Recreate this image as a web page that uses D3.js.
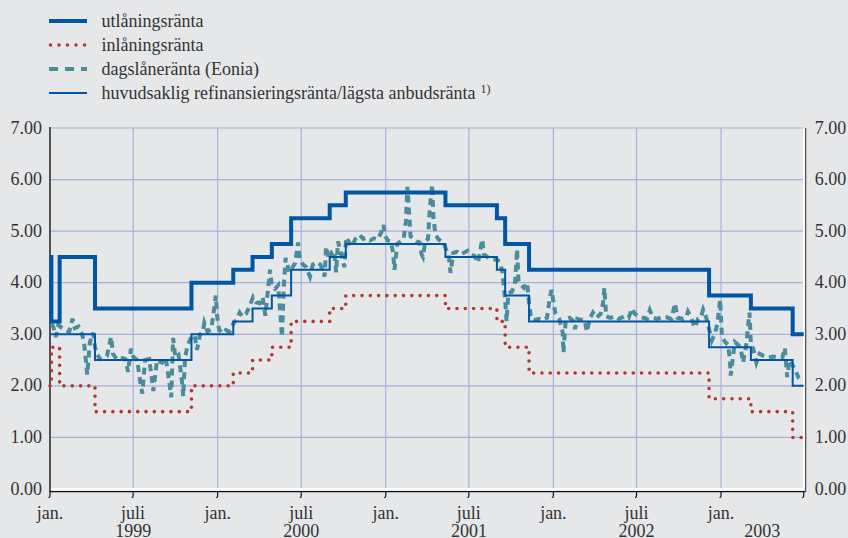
<!DOCTYPE html>
<html>
<head>
<meta charset="utf-8">
<script src="https://cdn.jsdelivr.net/npm/d3@7"></script>
<style>
  body { margin: 0; background: #e6e7e9; }
  svg { display: block; font-family: "Liberation Serif", "Times New Roman", serif; }
</style>
</head>
<body>
<div id="chart"></div>
<script>
// ECB-räntor 1999 - 2003, procent
var lendingRate = [["1999-01-01",4.50],["1999-01-04",3.25],["1999-01-22",4.50],["1999-04-09",3.50],["1999-11-05",4.00],
  ["2000-02-04",4.25],["2000-03-17",4.50],["2000-04-28",4.75],["2000-06-09",5.25],["2000-09-01",5.50],["2000-10-06",5.75],
  ["2001-05-11",5.50],["2001-08-31",5.25],["2001-09-18",4.75],["2001-11-09",4.25],["2002-12-06",3.75],["2003-03-07",3.50],
  ["2003-06-06",3.00],["2003-06-30",3.00]];

var depositRate = [["1999-01-01",2.00],["1999-01-04",2.75],["1999-01-22",2.00],["1999-04-09",1.50],["1999-11-05",2.00],
  ["2000-02-04",2.25],["2000-03-17",2.50],["2000-04-28",2.75],["2000-06-09",3.25],["2000-09-01",3.50],["2000-10-06",3.75],
  ["2001-05-11",3.50],["2001-08-31",3.25],["2001-09-18",2.75],["2001-11-09",2.25],["2002-12-06",1.75],["2003-03-07",1.50],
  ["2003-06-06",1.00],["2003-06-30",1.00]];

var refiRate = [["1999-01-01",3.00],["1999-04-09",2.50],["1999-11-05",3.00],
  ["2000-02-04",3.25],["2000-03-17",3.50],["2000-04-28",3.75],["2000-06-09",4.25],["2000-09-01",4.50],["2000-10-06",4.75],
  ["2001-05-11",4.50],["2001-08-31",4.25],["2001-09-18",3.75],["2001-11-09",3.25],["2002-12-06",2.75],["2003-03-07",2.50],
  ["2003-06-06",2.00],["2003-06-30",2.00]];

// dagslåneränta
var eonia = [
  ["1999-01-04",3.20],["1999-01-08",3.15],["1999-01-14",2.95],["1999-01-19",3.18],["1999-01-27",3.12],["1999-02-04",3.08],
  ["1999-02-12",3.05],["1999-02-19",3.30],["1999-02-24",3.12],["1999-03-04",3.15],["1999-03-12",3.00],["1999-03-16",2.85],
  ["1999-03-20",2.50],["1999-03-23",2.22],["1999-03-29",2.85],["1999-04-05",3.03],["1999-04-09",2.75],["1999-04-13",2.62],
  ["1999-04-20",2.52],["1999-04-27",2.55],["1999-05-05",2.58],["1999-05-14",2.95],["1999-05-18",2.62],["1999-05-26",2.52],
  ["1999-06-04",2.55],["1999-06-14",2.52],["1999-06-20",2.27],["1999-06-26",2.72],["1999-07-02",2.55],["1999-07-10",2.50],
  ["1999-07-16",2.10],["1999-07-21",1.85],["1999-07-27",2.50],["1999-08-05",2.52],["1999-08-11",2.12],["1999-08-14",1.90],
  ["1999-08-22",2.50],["1999-09-02",2.45],["1999-09-10",2.55],["1999-09-18",2.05],["1999-09-22",1.78],["1999-09-26",2.93],
  ["1999-10-01",2.55],["1999-10-08",2.60],["1999-10-15",2.12],["1999-10-18",1.80],["1999-10-22",2.55],["1999-10-28",2.80],
  ["1999-11-05",2.95],["1999-11-12",2.98],["1999-11-17",2.70],["1999-11-24",3.00],["1999-11-30",3.05],["1999-12-03",3.22],
  ["1999-12-10",3.05],["1999-12-18",3.10],["1999-12-23",3.40],["1999-12-28",3.75],["1999-12-31",3.35],
  ["2000-01-04",3.10],["2000-01-11",3.02],["2000-01-19",3.08],["2000-01-27",3.05],["2000-02-05",3.22],["2000-02-11",3.28],
  ["2000-02-18",3.42],["2000-02-24",3.34],["2000-03-03",3.40],["2000-03-10",3.53],["2000-03-18",3.72],["2000-03-25",3.62],
  ["2000-04-01",3.60],["2000-04-08",3.72],["2000-04-14",3.36],["2000-04-20",3.90],["2000-04-24",4.25],["2000-04-28",3.92],
  ["2000-05-05",3.88],["2000-05-12",3.95],["2000-05-20",2.95],["2000-05-24",3.92],["2000-05-28",4.48],["2000-06-05",4.20],
  ["2000-06-12",4.30],["2000-06-18",4.38],["2000-06-24",4.78],["2000-06-28",4.45],["2000-07-05",4.35],["2000-07-12",4.30],
  ["2000-07-20",4.12],["2000-07-26",4.35],["2000-08-04",4.40],["2000-08-12",4.35],["2000-08-21",4.12],["2000-08-24",4.70],
  ["2000-08-30",4.45],["2000-09-06",4.60],["2000-09-11",4.62],["2000-09-15",4.20],["2000-09-19",4.80],["2000-09-26",4.55],
  ["2000-10-03",4.30],["2000-10-07",4.88],["2000-10-12",4.80],["2000-10-19",4.70],["2000-10-27",4.85],["2000-11-05",4.93],
  ["2000-11-13",4.85],["2000-11-20",4.87],["2000-11-28",4.82],["2000-12-06",4.86],["2000-12-14",4.84],["2000-12-22",4.97],
  ["2000-12-27",5.12],["2000-12-31",4.90],
  ["2001-01-05",4.82],["2001-01-12",4.80],["2001-01-17",4.58],["2001-01-20",4.25],["2001-01-26",4.75],["2001-02-02",4.80],
  ["2001-02-09",4.85],["2001-02-14",5.20],["2001-02-17",5.86],["2001-02-20",5.50],["2001-02-24",4.90],["2001-03-02",4.85],
  ["2001-03-09",4.80],["2001-03-16",4.78],["2001-03-20",4.55],["2001-03-23",4.50],["2001-03-28",4.80],["2001-04-03",4.85],
  ["2001-04-07",5.45],["2001-04-12",5.90],["2001-04-15",5.25],["2001-04-19",4.95],["2001-04-25",4.85],["2001-05-02",4.80],
  ["2001-05-08",4.75],["2001-05-14",4.60],["2001-05-18",4.55],["2001-05-22",4.19],["2001-05-28",4.58],["2001-06-05",4.60],
  ["2001-06-12",4.55],["2001-06-20",4.58],["2001-06-28",4.62],["2001-07-05",4.55],["2001-07-13",4.52],["2001-07-21",4.39],
  ["2001-07-30",4.84],["2001-08-03",4.55],["2001-08-10",4.50],["2001-08-20",4.45],["2001-08-31",4.45],["2001-09-07",4.39],
  ["2001-09-12",4.20],["2001-09-18",3.67],["2001-09-21",3.25],["2001-09-25",3.80],["2001-10-02",3.82],["2001-10-09",3.95],
  ["2001-10-14",4.65],["2001-10-17",4.05],["2001-10-23",3.95],["2001-10-29",3.90],["2001-11-05",4.00],["2001-11-09",3.60],
  ["2001-11-14",3.30],["2001-11-22",3.28],["2001-12-01",3.30],["2001-12-10",3.28],["2001-12-18",3.32],["2001-12-24",3.70],
  ["2001-12-28",3.86],
  ["2002-01-05",3.42],["2002-01-14",3.30],["2002-01-21",3.05],["2002-01-23",2.64],["2002-01-28",3.30],["2002-02-05",3.32],
  ["2002-02-14",3.25],["2002-02-17",3.10],["2002-02-22",3.30],["2002-03-01",3.28],["2002-03-10",3.28],["2002-03-15",3.05],
  ["2002-03-21",3.30],["2002-03-28",3.42],["2002-04-05",3.32],["2002-04-14",3.40],["2002-04-19",3.60],["2002-04-22",3.90],
  ["2002-04-26",3.35],["2002-05-05",3.32],["2002-05-15",3.35],["2002-05-24",3.30],["2002-06-05",3.35],["2002-06-14",3.32],
  ["2002-06-21",3.50],["2002-06-27",3.40],["2002-07-05",3.35],["2002-07-15",3.32],["2002-07-24",3.30],["2002-07-30",3.47],
  ["2002-08-06",3.32],["2002-08-15",3.30],["2002-08-25",3.33],["2002-09-05",3.33],["2002-09-15",3.30],["2002-09-23",3.60],
  ["2002-09-28",3.32],["2002-10-10",3.30],["2002-10-17",3.33],["2002-10-21",3.44],["2002-10-28",3.32],["2002-11-05",3.13],
  ["2002-11-12",3.30],["2002-11-18",3.32],["2002-11-23",3.48],["2002-11-30",3.32],["2002-12-06",3.10],["2002-12-12",2.88],
  ["2002-12-18",3.00],["2002-12-24",3.20],["2002-12-30",3.67],
  ["2003-01-03",2.95],["2003-01-10",2.85],["2003-01-16",2.80],["2003-01-20",2.55],["2003-01-22",2.20],["2003-01-31",2.85],
  ["2003-02-07",2.80],["2003-02-13",2.72],["2003-02-18",2.45],["2003-02-25",2.80],["2003-03-04",3.42],["2003-03-07",2.83],
  ["2003-03-12",2.72],["2003-03-19",2.45],["2003-03-26",2.62],["2003-04-04",2.58],["2003-04-15",2.55],["2003-04-25",2.57],
  ["2003-05-06",2.55],["2003-05-15",2.56],["2003-05-20",2.74],["2003-05-25",2.17],["2003-05-30",2.50],["2003-06-06",2.40],
  ["2003-06-12",2.30],["2003-06-19",2.15],["2003-06-25",2.10]];

var yTicks = [0, 1, 2, 3, 4, 5, 6, 7];
var xTicks = [["1999-01-01","jan."],["1999-07-01","juli"],["2000-01-01","jan."],["2000-07-01","juli"],["2001-01-01","jan."],
  ["2001-07-01","juli"],["2002-01-01","jan."],["2002-07-01","juli"],["2003-01-01","jan."]];
var yearLabels = [["1999-07-01","1999"],["2000-07-01","2000"],["2001-07-01","2001"],["2002-07-01","2002"],["2003-04-01","2003"]];

var legendItems = [
  {name: "utlåningsränta", key: "lend"},
  {name: "inlåningsränta", key: "dep"},
  {name: "dagslåneränta (Eonia)", key: "eonia"},
  {name: "huvudsaklig refinansieringsränta/lägsta anbudsränta", key: "refi"}
];

var W = 848, H = 538;
var plot = {left: 50, right: 803.7, top: 128, bottom: 489};
var parse = d3.utcParse("%Y-%m-%d");

var styles = {
  lend:  {stroke: "#0055a4", width: 4, dash: null, cap: "butt"},
  dep:   {stroke: "#b5372e", width: 3.6, dash: "0,8.3", cap: "round"},
  eonia: {stroke: "#4a8c9c", width: 4, dash: "7,5", cap: "butt"},
  refi:  {stroke: "#0055a4", width: 2, dash: null, cap: "butt"}
};

var svg = d3.select("#chart").append("svg")
    .attr("width", W)
    .attr("height", H);

svg.append("rect").attr("width", W).attr("height", H).attr("fill", "#e6e7e9");

var x = d3.scaleUtc()
    .domain([parse("1999-01-01"), parse("2003-06-30")])
    .range([plot.left, plot.right]);

var y = d3.scaleLinear()
    .domain([0, 7])
    .range([plot.bottom, plot.top]);

// rutnät
var grid = svg.append("g");
grid.selectAll("line.h")
    .data(yTicks.filter(function(d){ return d > 0; }))
  .enter().append("line")
    .attr("x1", plot.left).attr("x2", plot.right)
    .attr("y1", function(d){ return y(d); }).attr("y2", function(d){ return y(d); })
    .attr("stroke", "#a6b0da").attr("stroke-width", 1.2);
grid.selectAll("line.v")
    .data(xTicks.slice(1))
  .enter().append("line")
    .attr("x1", function(d){ return x(parse(d[0])); }).attr("x2", function(d){ return x(parse(d[0])); })
    .attr("y1", plot.top).attr("y2", plot.bottom)
    .attr("stroke", "#a6b0da").attr("stroke-width", 1.2);

// ramlinjer
svg.append("line").attr("x1", plot.left).attr("x2", plot.right).attr("y1", plot.bottom).attr("y2", plot.bottom)
    .attr("stroke", "#fff").attr("stroke-width", 2);
svg.append("line").attr("x1", plot.right).attr("x2", plot.right).attr("y1", plot.top).attr("y2", plot.bottom)
    .attr("stroke", "#fff").attr("stroke-width", 1.5);
svg.append("line").attr("x1", plot.left - 0.5).attr("x2", plot.right + 2).attr("y1", plot.bottom + 2.6).attr("y2", plot.bottom + 2.6)
    .attr("stroke", "#111").attr("stroke-width", 1.3);
svg.append("line").attr("x1", plot.left).attr("x2", plot.left).attr("y1", plot.top - 1).attr("y2", plot.bottom + 3)
    .attr("stroke", "#222").attr("stroke-width", 1.5);
svg.append("line").attr("x1", plot.right + 2).attr("x2", plot.right + 2).attr("y1", plot.top).attr("y2", plot.bottom + 3)
    .attr("stroke", "#555").attr("stroke-width", 1.3);

// tickmarks på x-axeln
var tickDates = xTicks.map(function(d){ return d[0]; }).concat(["2003-06-30"]);
svg.append("g").selectAll("path")
    .data(tickDates)
  .enter().append("path")
    .attr("d", function(d){ var px = x(parse(d)); return "M" + px + "," + (plot.bottom + 2.6) + "v4.5q0,1.5 -1.5,1.5"; })
    .attr("fill", "none").attr("stroke", "#111").attr("stroke-width", 1.2);

// y-axlar
var yLeft = svg.append("g")
    .attr("transform", "translate(" + plot.left + ",0)")
    .call(d3.axisLeft(y).tickValues(yTicks).tickFormat(d3.format(".2f")).tickSize(0).tickPadding(8));
var yRight = svg.append("g")
    .attr("transform", "translate(" + (plot.right + 2) + ",0)")
    .call(d3.axisRight(y).tickValues(yTicks).tickFormat(d3.format(".2f")).tickSize(0).tickPadding(9));
[yLeft, yRight].forEach(function(g){
  g.select(".domain").remove();
  g.selectAll("text")
    .attr("dy", "0.28em")
    .attr("font-family", "Liberation Serif, serif")
    .attr("font-size", 18)
    .attr("fill", "#333");
});

// x-etiketter
svg.append("g").selectAll("text")
    .data(xTicks)
  .enter().append("text")
    .attr("x", function(d){ return x(parse(d[0])); })
    .attr("y", 519)
    .attr("text-anchor", "middle")
    .attr("font-size", 18).attr("fill", "#333")
    .text(function(d){ return d[1]; });
svg.append("g").selectAll("text")
    .data(yearLabels)
  .enter().append("text")
    .attr("x", function(d){ return x(parse(d[0])); })
    .attr("y", 537)
    .attr("text-anchor", "middle")
    .attr("font-size", 18).attr("fill", "#333")
    .text(function(d){ return d[1]; });

// serier
function toPts(arr){ return arr.map(function(d){ return {date: parse(d[0]), value: d[1]}; }); }
var stepLine = d3.line().curve(d3.curveStepAfter)
    .x(function(d){ return x(d.date); })
    .y(function(d){ return y(d.value); });
var plainLine = d3.line()
    .x(function(d){ return x(d.date); })
    .y(function(d){ return y(d.value); });

function draw(data, gen, st){
  svg.append("path")
    .datum(toPts(data))
    .attr("fill", "none")
    .attr("stroke", st.stroke)
    .attr("stroke-width", st.width)
    .attr("stroke-dasharray", st.dash)
    .attr("stroke-linecap", st.cap)
    .attr("stroke-linejoin", "miter")
    .attr("d", gen);
}
draw(depositRate, stepLine, styles.dep);
draw(eonia, plainLine, styles.eonia);
draw(refiRate, stepLine, styles.refi);
draw(lendingRate, stepLine, styles.lend);

// teckenförklaring
var legend = svg.append("g");
legendItems.forEach(function(item, i){
  var ly = 21 + i * 24;
  var st = styles[item.key];
  legend.append("line")
    .attr("x1", item.key == "dep" ? 50.5 : 49).attr("x2", 87)
    .attr("y1", ly).attr("y2", ly)
    .attr("stroke", st.stroke)
    .attr("stroke-width", st.width)
    .attr("stroke-dasharray", item.key == "eonia" ? "9,7" : (item.key == "dep" ? "0,8.5" : null))
    .attr("stroke-linecap", st.cap);
  var t = legend.append("text")
    .attr("x", 101.5).attr("y", ly + 5.5)
    .attr("font-size", 18).attr("fill", "#333")
    .text(item.name);
  if (item.key == "refi") {
    t.append("tspan").attr("dx", 5).attr("dy", -6).attr("font-size", 12).text("1)");
  }
});
</script>
</body>
</html>
